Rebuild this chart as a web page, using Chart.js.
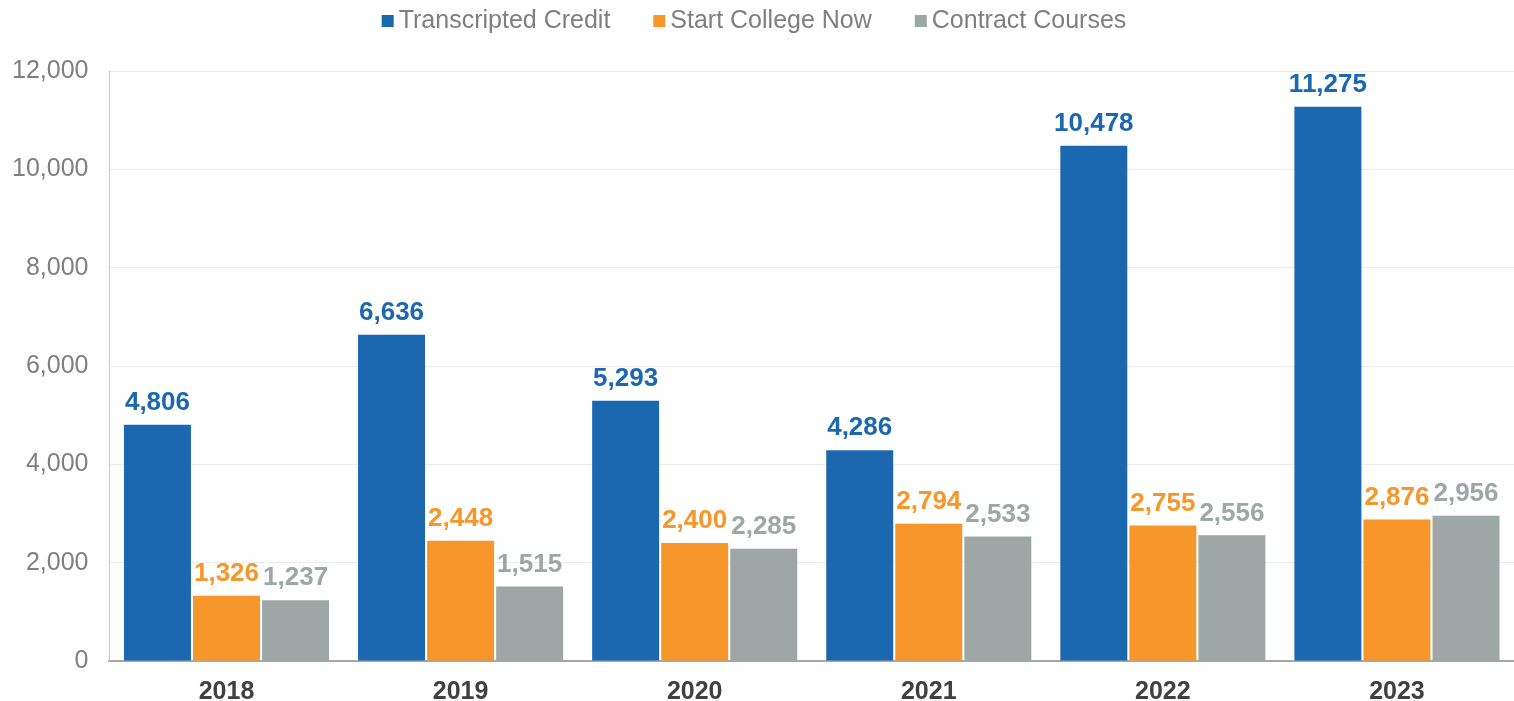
<!DOCTYPE html>
<html>
<head>
<meta charset="utf-8">
<script src="https://cdn.jsdelivr.net/npm/chart.js@4"></script>
<style>
  html, body { margin: 0; padding: 0; background: #fff; }
  #wrap { width: 1514px; height: 701px; }
</style>
</head>
<body>
<div id="wrap"><canvas id="chart"></canvas></div>
<script>
// dati
const years = ["2018", "2019", "2020", "2021", "2022", "2023"];
const transcripted = [4806, 6636, 5293, 4286, 10478, 11275];
const startCollege = [1326, 2448, 2400, 2794, 2755, 2876];
const contract = [1237, 1515, 2285, 2533, 2556, 2956];
const yTicks = [0, 2000, 4000, 6000, 8000, 10000, 12000];

const BLUE = "#1c68b0";
const ORANGE = "#f7962a";
const GRAY = "#9ea6a6";
const FONT = "'Liberation Sans', Arial, sans-serif";

Chart.defaults.font.family = FONT;

// etichette sopra le barre
const valueLabels = {
  id: "valueLabels",
  afterDatasetsDraw(chart) {
    const ctx = chart.ctx;
    ctx.save();
    ctx.font = "bold 26px " + FONT;
    ctx.textAlign = "center";
    ctx.textBaseline = "bottom";
    chart.data.datasets.forEach((ds, i) => {
      const meta = chart.getDatasetMeta(i);
      ctx.fillStyle = ds.backgroundColor;
      meta.data.forEach((bar, j) => {
        ctx.fillText(ds.data[j].toLocaleString("en-US"), bar.x, bar.y - 9);
      });
    });
    ctx.restore();
  }
};

// legenda disegnata a mano (quadratino vicino al testo)
const topLegend = {
  id: "topLegend",
  afterDraw(chart) {
    const ctx = chart.ctx;
    const box = 12, gap = 5, itemGap = 43, y = 21;
    ctx.save();
    ctx.font = "25px " + FONT;
    ctx.textBaseline = "middle";
    const items = chart.data.datasets.map(ds => ({
      text: ds.label, color: ds.backgroundColor, w: ctx.measureText(ds.label).width
    }));
    const total = items.reduce((s, it) => s + box + gap + it.w, 0) + itemGap * (items.length - 1);
    let x = chart.width / 2 - total / 2 - 3;
    items.forEach(it => {
      ctx.fillStyle = it.color;
      ctx.fillRect(x, y - box / 2, box, box);
      x += box + gap;
      ctx.fillStyle = "#7f7f7f";
      ctx.fillText(it.text, x, y);
      x += it.w + itemGap;
    });
    ctx.restore();
  }
};

new Chart(document.getElementById("chart"), {
  type: "bar",
  data: {
    labels: years,
    datasets: [
      { label: "Transcripted Credit", data: transcripted, backgroundColor: BLUE },
      { label: "Start College Now", data: startCollege, backgroundColor: ORANGE },
      { label: "Contract Courses", data: contract, backgroundColor: GRAY }
    ]
  },
  options: {
    responsive: true,
    maintainAspectRatio: false,
    animation: false,
    layout: { padding: { left: -9, right: 0, top: 71, bottom: -14 } },
    datasets: {
      bar: { categoryPercentage: 0.885, barPercentage: 0.97 }
    },
    plugins: {
      legend: { display: false },
      tooltip: { enabled: false }
    },
    scales: {
      x: {
        grid: { display: false },
        border: { color: "#a6a6a6", width: 2 },
        ticks: { color: "#404040", font: { size: 25, weight: "bold" }, padding: 8 }
      },
      y: {
        min: 0,
        max: 12000,
        afterBuildTicks(axis) { axis.ticks = yTicks.map(v => ({ value: v })); },
        grid: { color: "#ececec", drawTicks: false },
        border: { color: "#c8c8c8", width: 1 },
        ticks: {
          color: "#7f7f7f",
          font: { size: 25 },
          padding: 21,
          callback: v => v.toLocaleString("en-US")
        }
      }
    }
  },
  plugins: [valueLabels, topLegend]
});
</script>
</body>
</html>
